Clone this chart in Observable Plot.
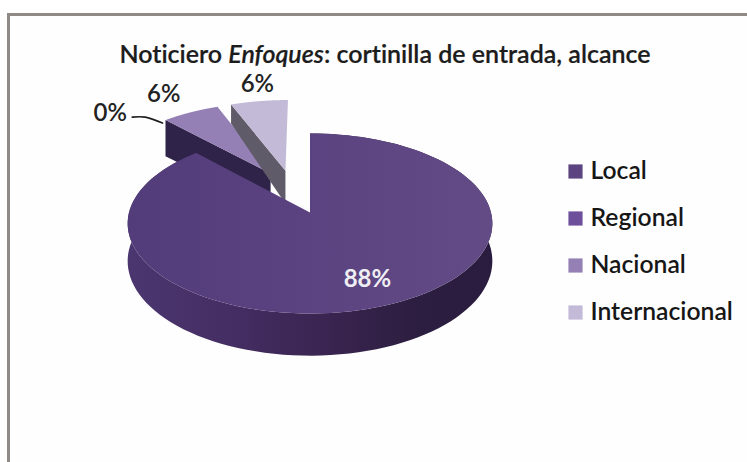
<!DOCTYPE html>
<html lang="es">
<head>
<meta charset="utf-8">
<script src="https://cdn.jsdelivr.net/npm/d3@7"></script>
<script src="https://cdn.jsdelivr.net/npm/@observablehq/plot@0.6"></script>
<style>
html,body{margin:0;padding:0;background:#fff;width:747px;height:462px;overflow:hidden}
#frame{position:absolute;left:7px;top:13px;width:740px;height:449px;border-left:3px solid #8f8a86;border-top:3px solid #8f8a86;box-sizing:border-box;background:#fefefe}
#chart{position:absolute;left:0;top:0}
#chart svg{display:block;background:transparent}
#title{position:absolute;left:0;top:38px;width:770px;text-align:center;font:600 25px/30px Lato,sans-serif;color:#1c1c1c;white-space:nowrap;font-variant-ligatures:none;-webkit-text-stroke:.2px #1c1c1c}
</style>
</head>
<body>
<div id="frame"></div>
<div id="chart"></div>
<div id="title">Noticiero <em>Enfoques</em>: cortinilla de entrada, alcance</div>
<script>
// Data
const categories = ["Local", "Regional", "Nacional", "Internacional"];
const values = [88, 0, 6, 6];
const colors = ["#5b4480", "#6d4f9b", "#9580b6", "#c2bad6"];
const wallColors = ["#3c2a55", "#3c2a55", "#2f2349", "#5f5b68"];
// Layout of the 3D pie: perspective projection of a tilted disc
const cx = 309.5, cy = 212, R = 181, S = 88.7, k = 0.122, D = 37;
const explode = [[0, 0], [0, 0], [-0.23, -0.465], [-0.144, -0.5]];
const labelReach = [0.76, 1, 1.32, 1.3];
const labelShift = [[2, -2], [-86, -40], [-4, -1], [5, 1]];
const cutDepth = [[1, 1], [1, 1], [1.12, 1], [0.6, 0.95]];

const project = (u, v, drop = 0) => {
  const w = 1 - k * v;
  return {x: cx + R * u / w, y: cy + S * v / w + drop * D / w};
};
const total = d3.sum(values);
const ends = Array.from(d3.cumsum(values), (c) => c / total * 2 * Math.PI);
const slices = categories.map((name, i) => ({
  name, i, value: values[i],
  a0: i ? ends[i - 1] : 0, a1: ends[i],
  off: explode[i]
}));
const rim = (s, drop, n = 120) => d3.range(n + 1).map((j) => {
  const a = s.a0 + (s.a1 - s.a0) * j / n;
  return project(s.off[0] + Math.sin(a), s.off[1] - Math.cos(a), drop);
});
const apex = (s, drop) => project(s.off[0], s.off[1], drop);
const drawn = slices.filter((s) => s.value > 0);
const paint = [...drawn.slice(1), drawn[0]]; // back slices first, front slice over them

const topFace = (s) => [apex(s, 0), ...rim(s, 0)].map((p) => ({...p, name: s.name}));
const cutWall = (s) => {
  const [outer, inner] = cutDepth[s.i];
  const edge = project(s.off[0] + Math.sin(s.a0), s.off[1] - Math.cos(s.a0), 0);
  const edgeLow = project(s.off[0] + Math.sin(s.a0), s.off[1] - Math.cos(s.a0), outer);
  return [apex(s, 0), edge, edgeLow, apex(s, inner)].map((p) => ({...p, name: s.name}));
};
const outerWall = (s) => [...rim(s, 0), ...rim(s, 1).reverse()].map((p) => ({...p, name: s.name}));

const labels = slices.map((s) => {
  const mid = (s.a0 + s.a1) / 2, f = labelReach[s.i];
  const p = project(s.off[0] + f * Math.sin(mid), s.off[1] - f * Math.cos(mid));
  return {x: p.x + labelShift[s.i][0], y: p.y + labelShift[s.i][1], text: `${s.value}%`, inside: s.i === 0};
});
const regional = slices[1];
const nacionalCorner = project(explode[2][0] + Math.sin(regional.a0), explode[2][1] - Math.cos(regional.a0));
const leader = [
  {x: labels[1].x + 22, y: labels[1].y + 4},
  {x: labels[1].x + 35, y: labels[1].y + 4},
  {x: nacionalCorner.x - 3, y: nacionalCorner.y + 3}
];

const font = "Lato, sans-serif";
const marks = [];
const gradients = () => {
  const svg = d3.create("svg:g");
  const defs = svg.append("defs");
  const wall = defs.append("linearGradient").attr("id", "mainWall").attr("x1", 0).attr("x2", 1).attr("y1", 0).attr("y2", 0);
  [[0, "#4c3670"], [0.3, "#432d62"], [0.55, "#3a2450"], [0.8, "#2c1e40"], [1, "#2a1c3e"]].forEach(([o, c]) =>
    wall.append("stop").attr("offset", o).attr("stop-color", c));
  const face = defs.append("linearGradient").attr("id", "mainTop").attr("x1", 0).attr("x2", 1).attr("y1", 0).attr("y2", 0);
  [[0, "#533c7a"], [0.5, "#5a4380"], [1, "#634b86"]].forEach(([o, c]) =>
    face.append("stop").attr("offset", o).attr("stop-color", c));
  return svg.node();
};
marks.push(gradients);
for (const s of paint) {
  if (s.i === 0) {
    marks.push(Plot.line(outerWall(s), {x: "x", y: "y", fill: "url(#mainWall)", stroke: "none"}));
    marks.push(Plot.line(topFace(s), {x: "x", y: "y", fill: "url(#mainTop)", stroke: "none"}));
  } else {
    marks.push(Plot.line(cutWall(s), {x: "x", y: "y", fill: wallColors[s.i], stroke: "none"}));
    marks.push(Plot.line(topFace(s), {x: "x", y: "y", fill: "name", stroke: "none"}));
  }
}
marks.push(
  Plot.line(leader, {x: "x", y: "y", curve: "catmull-rom", stroke: "#1f1f1f", strokeWidth: 1.6}),
  Plot.text(labels.filter((d) => !d.inside), {x: "x", y: "y", text: "text", fill: "#222", fontSize: 24,
    fontWeight: 600, fontFamily: font, textAnchor: "middle"}),
  Plot.text(labels.filter((d) => d.inside), {x: "x", y: "y", text: "text", fill: "#f0eef3", fontSize: 24,
    fontWeight: 700, fontFamily: font, textAnchor: "middle"}),
  Plot.dot(categories, {x: () => 575, y: (d, i) => 171 + 47 * i, symbol: "square", r: 8, fill: (d) => d, stroke: "none"}),
  Plot.text(categories, {x: () => 590, y: (d, i) => 171 + 47 * i, text: (d) => d, textAnchor: "start", fontSize: 24.7,
    fontWeight: 600, fontFamily: font, fill: "#161616"})
);

const plot = Plot.plot({
  width: 747, height: 462, margin: 0,
  x: {domain: [0, 747], range: [0, 747], axis: null},
  y: {domain: [0, 462], range: [0, 462], axis: null},
  color: {domain: categories, range: colors},
  style: {background: "transparent"},
  marks
});
document.getElementById("chart").append(plot);
</script>
</body>
</html>
